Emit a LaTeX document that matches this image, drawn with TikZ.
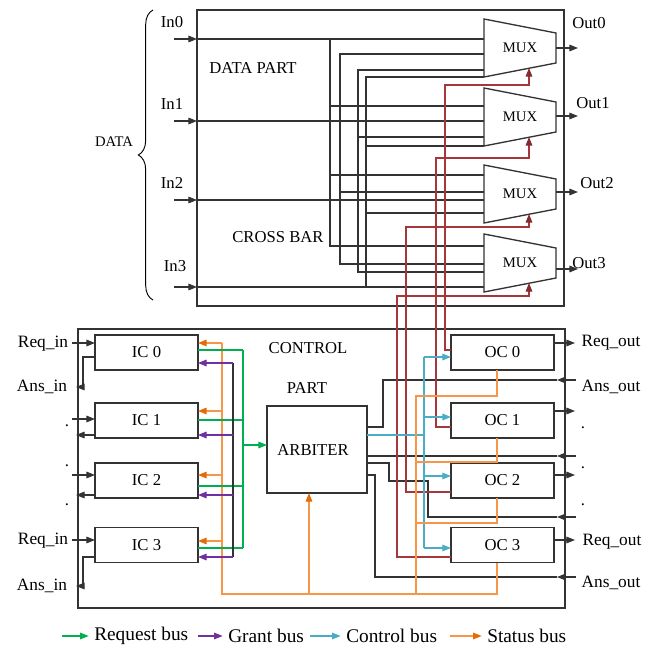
\documentclass[tikz,border=0pt]{standalone}
\usepackage{fontspec}
\setmainfont{Liberation Serif}
\usetikzlibrary{arrows.meta,decorations.pathreplacing}
\definecolor{cgreen}{HTML}{00B050}
\definecolor{cpurple}{HTML}{7030A0}
\definecolor{cblue}{HTML}{4BACC6}
\definecolor{corange}{HTML}{F79646}
\definecolor{corangedk}{HTML}{E36C09}
\definecolor{cred}{HTML}{A5363A}
\definecolor{cline}{HTML}{333333}
\newcommand\fntA{\fontsize{12.5}{14}\selectfont}
\newcommand\fntB{\fontsize{13}{15}\selectfont}
\newcommand\fntC{\fontsize{11}{13}\selectfont}
\newcommand\fntL{\fontsize{14.5}{16}\selectfont}
\begin{document}
\begin{tikzpicture}[x=0.75pt,y=-0.75pt,
  wire/.style={draw=cline, line width=0.8pt},
  arr/.style={wire, -{Triangle[length=6.5pt,width=5pt]}},
  frame/.style={draw=cline, line width=1pt, inner sep=0pt, outer sep=0pt},
  unit/.style={frame, minimum width=77.25pt, minimum height=26.25pt, font=\fntA},
  redbus/.style={draw=cred, line width=0.8pt, -{Triangle[length=6.5pt,width=5pt,color=cred!80!black]}},
  bluebus/.style={draw=cblue, line width=0.8pt, -{Triangle[length=6.5pt,width=5pt]}},
  bluewire/.style={draw=cblue, line width=0.8pt},
  orbus/.style={draw=corange, line width=0.8pt, -{Triangle[length=6.5pt,width=5pt,color=corangedk]}},
  orwire/.style={draw=corange, line width=0.8pt},
  grbus/.style={draw=cgreen, line width=0.8pt, -{Triangle[length=6.5pt,width=5pt]}},
  grwire/.style={draw=cgreen, line width=0.8pt},
  pubus/.style={draw=cpurple, line width=0.8pt, -{Triangle[length=6.5pt,width=5pt]}},
  lbl/.style={font=\fntA, inner sep=1pt},
  sidelbl/.style={font=\fntB, inner sep=1pt}
]
\useasboundingbox (0,0) rectangle (654,650);

% ================= DATA PART =================
\node[frame, minimum width=275.25pt, minimum height=222pt] (data) at (380.5,158) {};
\node[lbl] (dptxt) at (253,68) {DATA PART};
\node[lbl] (cbtxt) at (278,237) {CROSS BAR};

% brace and DATA label
\draw[line width=0.7pt, decorate, decoration={brace, amplitude=11pt, aspect=0.5}] (153,300) -- (153,10);
\node[font=\fntC, inner sep=1pt] (datatxt) at (114,142) {DATA};

% inputs
\foreach \i/\y/\ly/\lx in {0/39/22/172, 1/121/104/172, 2/200/183/172, 3/287/266/175} {
  \coordinate (in\i) at (174,\y);
  \node[lbl] (inl\i) at (\lx,\ly) {In\i};
  \draw[arr] (in\i) -- (data.west |- in\i);
}

% MUX trapezoids
\foreach \i/\c in {0/48, 1/117, 2/194, 3/263} {
  \draw[frame] (484,\c-29) -- (556,\c-15) -- (556,\c+15) -- (484,\c+29) -- cycle;
  \node[font=\fntC, inner sep=0pt] (mux\i) at (520,\c) {MUX};
}

% outputs
\foreach \i/\y/\lx/\ly in {0/48/589/23, 1/116/593/103, 2/192/597/183, 3/269/589/263} {
  \coordinate (out\i) at (578,\y);
  \draw[arr] (556,\y) -- (out\i);
  \node[lbl] (outl\i) at (\lx,\ly) {Out\i};
}

% crossbar wiring
% In0
\draw[wire] (data.west |- in0) -- (484,39);
\draw[wire] (330,39) -- (330,246) -- (484,246);
\draw[wire] (330,106) -- (484,106);
\draw[wire] (330,175) -- (484,175);
% In1
\draw[wire] (data.west |- in1) -- (484,121);
\draw[wire] (484,54) -- (340,54) -- (340,264) -- (484,264);
\draw[wire] (340,192) -- (484,192);
% In2
\draw[wire] (data.west |- in2) -- (484,200);
\draw[wire] (484,70) -- (358,70) -- (358,272) -- (484,272);
\draw[wire] (358,137) -- (484,137);
% In3
\draw[wire] (data.west |- in3) -- (484,287);
\draw[wire] (484,77) -- (366,77) -- (366,287);
\draw[wire] (366,146) -- (484,146);
\draw[wire] (366,213) -- (484,213);

% ================= CONTROL PART =================
\node[frame, minimum width=365.25pt, minimum height=209.25pt] (ctrl) at (321.5,468.5) {};
\node[lbl] (ctxt) at (308,348) {CONTROL};
\node[lbl] (ptxt) at (307,388) {PART};

\node[frame, minimum width=75pt, minimum height=65.25pt] (arb) at (317,449.5) {};
\node[lbl] (arbtxt) at (313,450) {ARBITER};

\foreach \i/\y in {0/352.5, 1/420.5, 2/480.5, 3/545} {
  \node[unit] (ic\i) at (146.5,\y) {IC \i};
  \node[unit] (oc\i) at (502.5,\y) {OC \i};
}

% ---- left side signals
\draw[arr] (72,343) -- (ic0.west |- 0,343);
\draw[arr] (ic0.west |- 0,357) -- (83,357) -- (83,387) -- (76,387);
\draw[arr] (72,419) -- (ic1.west |- 0,419);
\draw[arr] (ic1.west |- 0,435) -- (76,435);
\draw[arr] (72,475) -- (ic2.west |- 0,475);
\draw[arr] (ic2.west |- 0,495) -- (76,495);
\draw[arr] (72,540) -- (ic3.west |- 0,540);
\draw[arr] (ic3.west |- 0,557) -- (83,557) -- (83,586) -- (76,586);
\node[sidelbl] (rin0) at (43,344) {Req\_in};
\node[sidelbl] (ain0) at (42,387) {Ans\_in};
\node[sidelbl] (rin3) at (43,541) {Req\_in};
\node[sidelbl] (ain3) at (42,586) {Ans\_in};
\node[font=\fntA, inner sep=0pt] (ld1) at (67,426) {.};
\node[font=\fntA, inner sep=0pt] (ld2) at (67,466) {.};
\node[font=\fntA, inner sep=0pt] (ld3) at (67,505) {.};

% ---- right side signals
\draw[arr] (oc0.east |- 0,343) -- (575,343);
\draw[arr] (oc1.east |- 0,411) -- (575,411);
\draw[arr] (oc2.east |- 0,475) -- (575,475);
\draw[arr] (oc3.east |- 0,540) -- (575,540);
\node[sidelbl] (rout0) at (611,343) {Req\_out};
\node[sidelbl] (aout0) at (611,387) {Ans\_out};
\node[sidelbl] (rout3) at (612,542) {Req\_out};
\node[sidelbl] (aout3) at (611,583) {Ans\_out};
\node[font=\fntA, inner sep=0pt] (rd1) at (583,428) {.};
\node[font=\fntA, inner sep=0pt] (rd2) at (583,468) {.};
\node[font=\fntA, inner sep=0pt] (rd3) at (583,505) {.};

% answer lines into arbiter
\draw[arr] (576,380) -- (557,380);
\draw[wire] (557,380) -- (383,380) -- (383,427) -- (arb.east |- 0,427);
\draw[arr] (576,456) -- (557,456);
\draw[wire] (557,456) -- (arb.east |- 0,456);
\draw[arr] (576,517) -- (557,517);
\draw[wire] (557,517) -- (428,517) -- (428,481) -- (389,481) -- (389,463) -- (arb.east |- 0,463);
\draw[arr] (576,577) -- (557,577);
\draw[wire] (557,577) -- (375,577) -- (375,475) -- (arb.east |- 0,475);

% ---- red lines: OC -> MUX select
\draw[redbus] (oc0.west |- 0,350) -- (445,350) -- (445,85) -- (529,85) -- (529,68);
\draw[redbus] (oc1.west |- 0,427) -- (436,427) -- (436,158) -- (529,158) -- (529,137);
\draw[redbus] (oc2.west |- 0,492) -- (406,492) -- (406,227) -- (529,227) -- (529,214);
\draw[redbus] (oc3.west |- 0,557) -- (397,557) -- (397,296) -- (529,296) -- (529,283);

% ---- blue control bus
\draw[bluewire] (arb.east |- 0,435) -- (424,435);
\draw[bluewire] (424,357) -- (424,548);
\draw[bluebus] (424,357) -- (oc0.west |- 0,357);
\draw[bluebus] (424,417) -- (oc1.west |- 0,417);
\draw[bluebus] (424,476) -- (oc2.west |- 0,476);
\draw[bluebus] (424,548) -- (oc3.west |- 0,548);

% ---- orange status bus
\draw[orwire] (oc0.south -| 497,0) -- (497,396) -- (416,396) -- (416,594);
\draw[orwire] (oc1.south -| 497,0) -- (497,462) -- (416,462);
\draw[orwire] (oc2.south -| 497,0) -- (497,523) -- (416,523);
\draw[orwire] (oc3.south -| 497,0) -- (497,594) -- (222,594) -- (222,343);
\draw[orbus] (222,343) -- (ic0.east |- 0,343);
\draw[orbus] (222,411) -- (ic1.east |- 0,411);
\draw[orbus] (222,475) -- (ic2.east |- 0,475);
\draw[orbus] (222,541) -- (ic3.east |- 0,541);
\draw[orbus] (309,594) -- (arb.south -| 309,0);

% ---- green request bus
\draw[grwire] (ic0.east |- 0,350) -- (243,350);
\draw[grwire] (ic1.east |- 0,420) -- (243,420);
\draw[grwire] (ic2.east |- 0,486) -- (243,486);
\draw[grwire] (ic3.east |- 0,548) -- (243,548);
\draw[grwire] (243,350) -- (243,548);
\draw[grbus] (243,445) -- (arb.west |- 0,445);

% ---- purple grant bus
\draw[wire] (233,363) -- (233,557);
\draw[pubus] (233,363) -- (ic0.east |- 0,363);
\draw[pubus] (233,435) -- (ic1.east |- 0,435);
\draw[pubus] (233,495) -- (ic2.east |- 0,495);
\draw[pubus] (233,557) -- (ic3.east |- 0,557);

% ================= LEGEND =================
\node[font=\fntL, anchor=west, inner sep=0pt] (lg1) at (94,636) {Request bus};
\node[font=\fntL, anchor=west, inner sep=0pt] (lg2) at (228,636) {Grant bus};
\node[font=\fntL, anchor=west, inner sep=0pt] (lg3) at (346,636) {Control bus};
\node[font=\fntL, anchor=west, inner sep=0pt] (lg4) at (487,636) {Status bus};
\draw[grbus] (62,636) -- ([xshift=-4pt]lg1.west);
\draw[pubus] (198,636) -- ([xshift=-4pt]lg2.west);
\draw[bluebus] (310,636) -- ([xshift=-4pt]lg3.west);
\draw[orbus] (450,636) -- ([xshift=-4pt]lg4.west);
\end{tikzpicture}
\end{document}
